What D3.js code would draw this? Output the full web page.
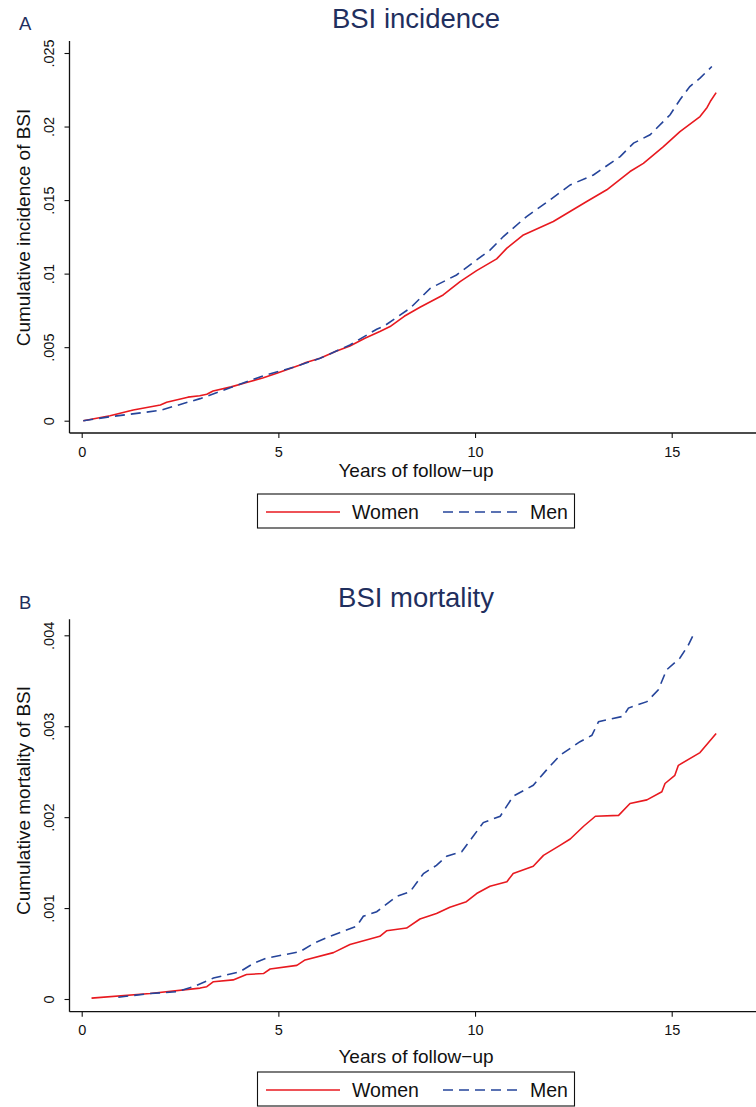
<!DOCTYPE html>
<html>
<head>
<meta charset="utf-8">
<script src="https://cdn.jsdelivr.net/npm/d3@7"></script>
<style>
  html, body { margin: 0; padding: 0; background: #fff; }
  svg { display: block; font-family: "Liberation Sans", Arial, sans-serif; }
</style>
</head>
<body>
<svg id="chart" width="756" height="1107"></svg>
<script>
// Cumulative incidence of BSI: [years of follow-up, cumulative incidence]
const incidenceWomen = [
  [0.04, 0], [0.72, 0.00034], [1.31, 0.00073], [2.0, 0.00107], [2.16, 0.00125], [2.7, 0.0016],
  [3.0, 0.0017], [3.18, 0.0018], [3.34, 0.00202], [3.8, 0.0023], [4.19, 0.0026], [4.6, 0.0029],
  [4.96, 0.00322], [5.55, 0.00379], [5.7, 0.00395], [6.06, 0.00424], [6.45, 0.0047], [6.82, 0.00508],
  [7.2, 0.0056], [7.58, 0.00606], [7.84, 0.0064], [8.2, 0.0071], [8.6, 0.00771], [9.19, 0.00855],
  [9.62, 0.00946], [10.04, 0.0102], [10.55, 0.011], [10.81, 0.01173], [11.23, 0.01263], [11.99, 0.01354],
  [12.84, 0.0149], [13.35, 0.0157], [13.94, 0.01694], [14.28, 0.0175], [14.79, 0.01864], [15.21, 0.01966],
  [15.72, 0.02068], [15.9, 0.0213], [15.98, 0.0217], [16.13, 0.02231]
];
const incidenceMen = [
  [0.04, 0], [0.72, 0.00027], [1.99, 0.0007], [3.01, 0.0015], [3.85, 0.00231], [4.62, 0.00306],
  [5.38, 0.00363], [6.06, 0.00424], [6.82, 0.00515], [7.5, 0.00622], [7.67, 0.0064], [8.35, 0.00765],
  [8.86, 0.009], [9.53, 0.00991], [10.04, 0.01093], [10.38, 0.0116], [10.72, 0.01252], [11.31, 0.01388],
  [11.91, 0.01501], [12.42, 0.01603], [13.01, 0.01671], [13.69, 0.01796], [14.03, 0.01887], [14.45, 0.01944],
  [14.96, 0.0208], [15.21, 0.02182], [15.46, 0.02272], [15.72, 0.02329], [16.02, 0.02408]
];

// Cumulative mortality of BSI: [years of follow-up, cumulative mortality]
const mortalityWomen = [
  [0.25, 0.00001], [1.74, 0.00006], [3.01, 0.00012], [3.18, 0.000135], [3.35, 0.00019], [3.85, 0.00021],
  [4.19, 0.00027], [4.62, 0.00028], [4.79, 0.00033], [5.47, 0.00037], [5.68, 0.00043], [6.4, 0.00051],
  [6.82, 0.0006], [7.58, 0.00069], [7.75, 0.00075], [8.26, 0.00078], [8.6, 0.00088], [9.02, 0.00094],
  [9.36, 0.00101], [9.78, 0.00107], [10.04, 0.00116], [10.38, 0.00124], [10.81, 0.00129], [10.97, 0.00138],
  [11.48, 0.00146], [11.74, 0.00158], [12.16, 0.00169], [12.42, 0.00176], [12.76, 0.0019], [13.06, 0.00201],
  [13.65, 0.00202], [13.94, 0.00215], [14.37, 0.00219], [14.75, 0.00228], [14.83, 0.00237], [15.08, 0.00246],
  [15.17, 0.00257], [15.72, 0.00271], [16.13, 0.00292]
];
const mortalityMen = [
  [0.93, 0.00002], [1.74, 0.00006], [2.42, 0.00008], [2.84, 0.000135], [3.35, 0.00023], [4.02, 0.0003],
  [4.36, 0.00039], [4.7, 0.00045], [5.55, 0.00052], [5.89, 0.00061], [6.31, 0.00069], [6.99, 0.0008],
  [7.16, 0.00091], [7.5, 0.00096], [8.01, 0.00113], [8.35, 0.00118], [8.69, 0.00138], [9.02, 0.00147],
  [9.28, 0.00157], [9.66, 0.00162], [9.92, 0.00177], [10.21, 0.00194], [10.64, 0.00201], [10.97, 0.00223],
  [11.48, 0.00235], [11.82, 0.00252], [12.16, 0.00268], [12.67, 0.00283], [12.97, 0.0029], [13.14, 0.00305],
  [13.77, 0.00311], [13.9, 0.0032], [14.37, 0.00327], [14.66, 0.0034], [14.87, 0.00362], [15.21, 0.00375],
  [15.42, 0.00389], [15.59, 0.00404]
];

// Axis ticks and labels
const xTicks = [0, 5, 10, 15];
const incidenceTicks = [0, 0.005, 0.01, 0.015, 0.02, 0.025];
const incidenceTickLabels = ["0", ".005", ".01", ".015", ".02", ".025"];
const mortalityTicks = [0, 0.001, 0.002, 0.003, 0.004];
const mortalityTickLabels = ["0", ".001", ".002", ".003", ".004"];
const seriesNames = ["Women", "Men"];

const RED = "#e8191f";
const BLUE = "#25449a";
const NAVY = "#1f2f5e";

const svg = d3.select("#chart");

function drawPanel(cfg) {
  const g = svg.append("g");
  const x = d3.scaleLinear().domain([0, 15]).range([81.7, 671.7]);
  const y = d3.scaleLinear().domain([0, cfg.yTicks[cfg.yTicks.length - 1]]).range([cfg.y0, cfg.yTop]);

  // panel letter and title
  g.append("text").attr("x", 19).attr("y", cfg.letterY)
    .attr("font-size", 18.5).attr("fill", NAVY).text(cfg.letter);
  g.append("text").attr("x", 416).attr("y", cfg.titleY)
    .attr("text-anchor", "middle").attr("font-size", 27.5).attr("fill", NAVY).text(cfg.title);

  // x axis
  const xAxis = g.append("g").attr("transform", `translate(0,${cfg.axisY})`)
    .call(d3.axisBottom(x).tickValues(xTicks).tickSize(5).tickSizeOuter(0).tickFormat(d3.format("d")));
  xAxis.select(".domain").remove();
  xAxis.selectAll(".tick line").attr("stroke", "#111").attr("stroke-width", 1.1);
  xAxis.selectAll(".tick text").attr("font-size", 14.5).attr("fill", "#111")
    .attr("font-family", "'Liberation Sans', Arial, sans-serif").attr("dy", null).attr("y", cfg.xLabelDy);
  g.append("line").attr("x1", 69.5).attr("x2", 756).attr("y1", cfg.axisY).attr("y2", cfg.axisY)
    .attr("stroke", "#111").attr("stroke-width", 1.3);

  // y axis
  const yAxis = g.append("g").attr("transform", "translate(69.5,0)")
    .call(d3.axisLeft(y).tickValues(cfg.yTicks).tickSize(5).tickSizeOuter(0)
      .tickFormat((d, i) => cfg.yLabels[i]));
  yAxis.select(".domain").remove();
  yAxis.selectAll(".tick line").attr("stroke", "#111").attr("stroke-width", 1.1);
  yAxis.selectAll(".tick text").attr("font-size", 14.5).attr("fill", "#111")
    .attr("font-family", "'Liberation Sans', Arial, sans-serif")
    .attr("x", null).attr("dy", null)
    .attr("text-anchor", "middle")
    .attr("transform", "translate(-15.5,0) rotate(-90)");
  g.append("line").attr("x1", 69.5).attr("x2", 69.5).attr("y1", cfg.yTopLine).attr("y2", cfg.axisY)
    .attr("stroke", "#111").attr("stroke-width", 1.3);

  // axis titles
  g.append("text").attr("x", 416).attr("y", cfg.xTitleY).attr("text-anchor", "middle")
    .attr("font-size", 19).attr("fill", "#111").text("Years of follow\u2212up");
  g.append("text").attr("transform", `translate(30,${cfg.yTitleY}) rotate(-90)`)
    .attr("text-anchor", "middle").attr("font-size", 19).attr("fill", "#111").text(cfg.yTitle);

  // curves
  const line = d3.line().x(d => x(d[0])).y(d => y(d[1]));
  g.append("path").datum(cfg.women).attr("d", line).attr("fill", "none")
    .attr("stroke", RED).attr("stroke-width", 1.6).attr("stroke-linejoin", "round");
  g.append("path").datum(cfg.men).attr("d", line).attr("fill", "none")
    .attr("stroke", BLUE).attr("stroke-width", 1.6).attr("stroke-dasharray", "10,6");

  // legend
  const lg = g.append("g").attr("transform", `translate(0,${cfg.legendY})`);
  lg.append("rect").attr("x", 257.5).attr("y", 0).attr("width", 317).attr("height", 34)
    .attr("fill", "#fff").attr("stroke", "#111").attr("stroke-width", 1.1);
  const styles = [{stroke: RED, dash: null, x1: 266, x2: 340, tx: 352},
                  {stroke: BLUE, dash: "10,6", x1: 443, x2: 519, tx: 530}];
  seriesNames.forEach((name, i) => {
    const s = styles[i];
    lg.append("line").attr("x1", s.x1).attr("x2", s.x2).attr("y1", 18).attr("y2", 18)
      .attr("stroke", s.stroke).attr("stroke-width", 1.6).attr("stroke-dasharray", s.dash);
    lg.append("text").attr("x", s.tx).attr("y", 25).attr("font-size", 19.5).attr("fill", "#111").text(name);
  });
}

drawPanel({
  letter: "A", letterY: 30, title: "BSI incidence", titleY: 28.3,
  axisY: 433, yTopLine: 41, y0: 420.7, yTop: 53,
  yTicks: incidenceTicks, yLabels: incidenceTickLabels,
  xLabelDy: 23.7 - 14.5 * 0.0 , xTitleY: 476.7,
  yTitle: "Cumulative incidence of BSI", yTitleY: 227.5,
  women: incidenceWomen, men: incidenceMen, legendY: 494
});

drawPanel({
  letter: "B", letterY: 609.3, title: "BSI mortality", titleY: 606.7,
  axisY: 1011.7, yTopLine: 619.3, y0: 999, yTop: 635.3,
  yTicks: mortalityTicks, yLabels: mortalityTickLabels,
  xLabelDy: 23.3, xTitleY: 1063,
  yTitle: "Cumulative mortality of BSI", yTitleY: 800.5,
  women: mortalityWomen, men: mortalityMen, legendY: 1072
});
</script>
</body>
</html>
